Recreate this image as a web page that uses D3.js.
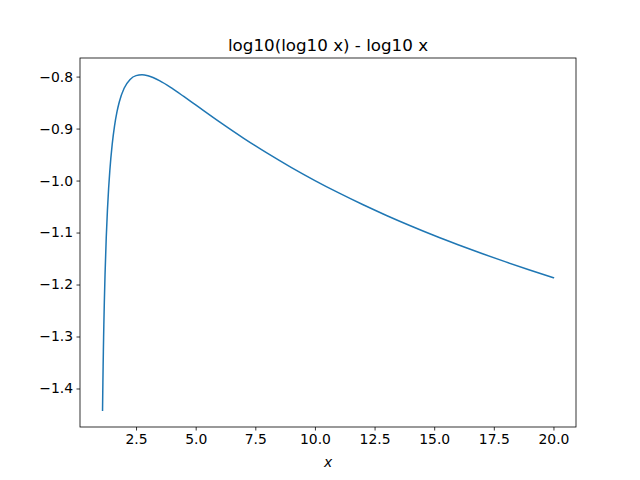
<!DOCTYPE html>
<html><head><meta charset="utf-8">
<script src="https://cdn.jsdelivr.net/npm/d3@7"></script>
<style>body{margin:0;background:#fff;} svg{display:block;}</style>
</head><body>
<svg id="c" width="640" height="480"></svg>
<script>
const title = "log10(log10 x) - log10 x";
const xLabel = "x";
const xs = [1.0955,1.105,1.11,1.12,1.13,1.14,1.15,1.17,1.2,1.25,1.3,1.35,1.4,1.5,1.6,1.7,1.8,2.0,2.25,2.5,2.75,3.0,3.5,4,4.5,5,6,7,8,9,10,11,12,13,14,15,16,17,18,19,20];
const ys = [-1.4418,-1.4063,-1.3890,-1.3571,-1.3282,-1.3018,-1.2775,-1.2345,-1.1806,-1.1105,-1.0573,-1.0153,-0.9814,-0.9304,-0.8942,-0.8679,-0.8483,-0.8224,-0.8054,-0.7981,-0.7965,-0.7985,-0.8084,-0.8224,-0.8382,-0.8545,-0.8871,-0.9182,-0.9474,-0.9746,-1.0000,-1.0238,-1.0461,-1.0671,-1.0869,-1.1057,-1.1234,-1.1404,-1.1565,-1.1720,-1.1868];
const xTicks = [2.5,5.0,7.5,10.0,12.5,15.0,17.5,20.0];
const yTicks = [-1.4,-1.3,-1.2,-1.1,-1.0,-0.9,-0.8];

const L=80, R=576, T=58, B=427;
const svg = d3.select("#c");
const font = "DejaVu Sans, sans-serif";
const xmin=d3.min(xs), xmax=d3.max(xs), ymin=d3.min(ys), ymax=d3.max(ys);
const xp=(xmax-xmin)*0.05, yp=(ymax-ymin)*0.05;
const x = d3.scaleLinear().domain([xmin-xp, xmax+xp]).range([L,R]);
const y = d3.scaleLinear().domain([ymin-yp, ymax+yp]).range([B,T]);
const data = xs.map((v,i)=>[v,ys[i]]);

svg.append("path").datum(data)
  .attr("fill","none").attr("stroke","#1f77b4").attr("stroke-width",1.5)
  .attr("stroke-linejoin","round").attr("stroke-linecap","square")
  .attr("d", d3.line().x(d=>x(d[0])).y(d=>y(d[1])).curve(d3.curveMonotoneX));

const fmt = v => (v<0?"\u2212":"") + Math.abs(v).toFixed(1);
const xa = svg.append("g").attr("transform",`translate(0,${B})`)
  .call(d3.axisBottom(x).tickValues(xTicks).tickSize(3.5).tickPadding(3.5).tickFormat(d=>d.toFixed(1)));
const ya = svg.append("g").attr("transform",`translate(${L},0)`)
  .call(d3.axisLeft(y).tickValues(yTicks).tickSize(3.5).tickPadding(3.5).tickFormat(fmt));
[xa,ya].forEach(a=>{
  a.select(".domain").remove();
  a.selectAll(".tick line").attr("stroke","#000").attr("stroke-width",0.8);
  a.selectAll("text").attr("font-family",font).attr("font-size","13.9px").attr("fill","#000");
});
svg.append("rect").attr("x",L).attr("y",T).attr("width",R-L).attr("height",B-T)
  .attr("fill","none").attr("stroke","#000").attr("stroke-width",0.8);

svg.append("text").attr("x",(L+R)/2).attr("y",T-7).attr("text-anchor","middle")
  .attr("font-family",font).attr("font-size","16.7px").text(title);
svg.append("text").attr("x",(L+R)/2).attr("y",467).attr("text-anchor","middle")
  .attr("font-family",font).attr("font-style","italic").attr("font-size","13.9px").text(xLabel);
</script>
</body></html>
